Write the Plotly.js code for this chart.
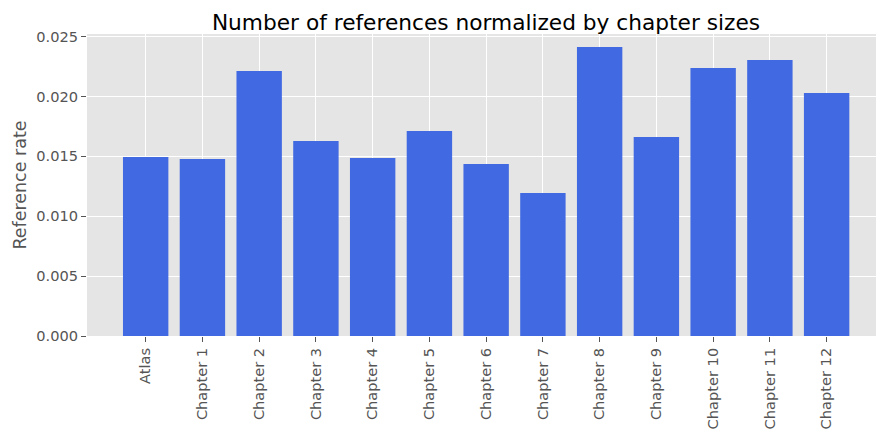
<!DOCTYPE html>
<html>
<head>
<meta charset="utf-8">
<script src="https://cdn.plot.ly/plotly-3.0.1.min.js"></script>
<style>html,body{margin:0;padding:0;background:#fff}#chart{width:876px;height:429px}</style>
</head>
<body>
<div id="chart"></div>
<script>
const categories = ["Atlas", "Chapter 1", "Chapter 2", "Chapter 3", "Chapter 4", "Chapter 5", "Chapter 6", "Chapter 7", "Chapter 8", "Chapter 9", "Chapter 10", "Chapter 11", "Chapter 12"];
const referenceRate = [0.01494, 0.01477, 0.02212, 0.01628, 0.01486, 0.01711, 0.01436, 0.01194, 0.02412, 0.01661, 0.02237, 0.02304, 0.02028];
const yTicks = [0, 0.005, 0.010, 0.015, 0.020, 0.025];

const font = "DejaVu Sans, sans-serif";
const trace = {
  type: "bar",
  x: categories,
  y: referenceRate,
  width: 0.8,
  marker: {color: "#4169E1", line: {width: 0}},
  hoverinfo: "x+y"
};
const layout = {
  width: 876, height: 429,
  margin: {l: 87, r: 0, t: 34, b: 93, pad: 0},
  paper_bgcolor: "#ffffff",
  plot_bgcolor: "#E5E5E5",
  font: {family: font, color: "#555555", size: 14.6},
  showlegend: false,
  title: {
    text: "Number of references normalized by chapter sizes",
    font: {family: font, size: 21.7, color: "#000000"},
    xref: "container", x: 486/876, xanchor: "center",
    yref: "paper", y: 1, yanchor: "bottom", pad: {b: 4}
  },
  xaxis: {
    type: "category",
    range: [-1.034, 12.87],
    tickangle: -90,
    ticks: "outside", ticklen: 5, tickwidth: 1, tickcolor: "#555555",
    showgrid: true, gridcolor: "#ffffff", gridwidth: 1,
    showline: false, zeroline: false,
    tickfont: {family: font, size: 14.6, color: "#555555"}
  },
  yaxis: {
    range: [0, 0.02521],
    tickvals: yTicks,
    tickformat: ".3f",
    ticks: "outside", ticklen: 5, tickwidth: 1, tickcolor: "#555555",
    showgrid: true, gridcolor: "#ffffff", gridwidth: 1,
    showline: false, zeroline: false,
    tickfont: {family: font, size: 14.6, color: "#555555"},
    title: {text: "Reference rate", font: {family: font, size: 17.5, color: "#555555"}, standoff: 5}
  },
  bargap: 0.2
};
Plotly.newPlot("chart", [trace], layout, {displayModeBar: false, staticPlot: true});
</script>
</body>
</html>
